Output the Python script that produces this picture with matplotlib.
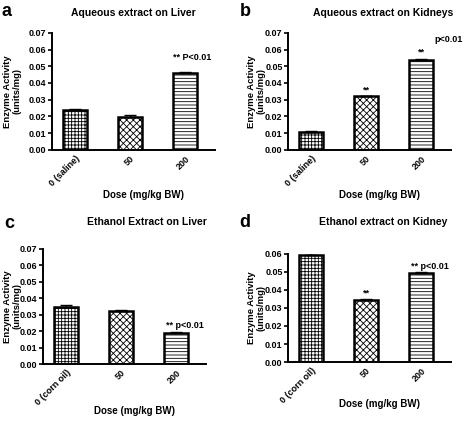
import matplotlib.pyplot as plt

plt.rcParams['font.family'] = 'Liberation Sans'
plt.rcParams['font.weight'] = 'bold'
plt.rcParams['hatch.linewidth'] = 0.6

# data
doses_saline = ["0 (saline)", "50", "200"]
doses_oil = ["0 (corn oil)", "50", "200"]
aq_liver = [0.0240, 0.0197, 0.0462]
aq_liver_err = [0.0007, 0.0010, 0.0002]
aq_kidney = [0.0108, 0.0320, 0.0535]
aq_kidney_err = [0.0004, 0.0002, 0.0010]
et_liver = [0.0347, 0.0322, 0.0190]
et_liver_err = [0.0010, 0.0009, 0.0006]
et_kidney = [0.0595, 0.0345, 0.0492]
et_kidney_err = [0.0010, 0.0007, 0.0010]

hatches = ['+++++', 'xxxxx', '-----']

fig = plt.figure(figsize=(4.73, 4.21), dpi=100)


def panel(rect, labels, vals, errs, ymax, title, tx, ty, letter, lx, ly, ylx, xly):
    ax = fig.add_axes(rect)
    x = range(len(vals))
    for i in x:
        ax.bar(i, vals[i], width=0.45, color='white', edgecolor='black',
               hatch=hatches[i], linewidth=1.8, zorder=2)
        ax.errorbar(i, vals[i], yerr=[[0], [errs[i]]], color='black',
                    capsize=4, elinewidth=1, capthick=1, zorder=3)
    ax.set_xlim(-0.42, 2.55)
    ax.set_ylim(0, ymax)
    ticks = [round(0.01 * k, 2) for k in range(int(round(ymax / 0.01)) + 1)]
    ax.set_yticks(ticks)
    ax.set_yticklabels([f"{t:.2f}" for t in ticks], fontsize=6.5, fontweight='bold')
    ax.set_xticks(list(x))
    ax.set_xticklabels(labels, rotation=45, ha='right', rotation_mode='anchor',
                       fontsize=6.5, fontweight='bold')
    ax.tick_params(length=3, width=1.2, pad=1)
    ax.tick_params(axis='x', length=0, pad=3)
    for s in ['top', 'right']:
        ax.spines[s].set_visible(False)
    for s in ['left', 'bottom']:
        ax.spines[s].set_linewidth(1.4)
    ax.set_ylabel("Enzyme Activity\n(units/mg)", fontsize=6.8, fontweight='bold',
                  linespacing=1.0, va='center')
    ax.yaxis.set_label_coords(ylx, 0.5)
    ax.set_xlabel("Dose (mg/kg BW)", fontsize=7, fontweight='bold', va='center')
    ax.xaxis.set_label_coords(0.56, xly)
    fig.text(tx, ty, title, fontsize=7.5, fontweight='bold', ha='center', va='center')
    fig.text(lx, ly, letter, fontsize=13, fontweight='bold', ha='left', va='center')
    return ax


a = panel([0.110, 0.644, 0.345, 0.278], doses_saline, aq_liver, aq_liver_err,
          0.07, "Aqueous extract on Liver", 0.283, 0.969, "a", 0.004, 0.972,
          -0.245, -0.385)
a.text(1.78, 0.0555, "** P<0.01", fontsize=6.5, fontweight='bold', ha='left', va='center')

b = panel([0.609, 0.644, 0.345, 0.278], doses_saline, aq_kidney, aq_kidney_err,
          0.07, "Aqueous extract on Kidneys", 0.810, 0.969, "b", 0.506, 0.972,
          -0.196, -0.385)
b.text(1, 0.0355, "**", fontsize=6.5, fontweight='bold', ha='center', va='center')
b.text(2, 0.0585, "**", fontsize=6.5, fontweight='bold', ha='center', va='center')
b.text(2.25, 0.066, "p<0.01", fontsize=6.5, fontweight='bold', ha='left', va='center',
       clip_on=False)

c = panel([0.091, 0.135, 0.345, 0.274], doses_oil, et_liver, et_liver_err,
          0.07, "Ethanol Extract on Liver", 0.310, 0.472, "c", 0.008, 0.470,
          -0.19, -0.41)
c.text(1.82, 0.0235, "** p<0.01", fontsize=6.5, fontweight='bold', ha='left', va='center')

d = panel([0.609, 0.140, 0.345, 0.257], doses_oil, et_kidney, et_kidney_err,
          0.06, "Ethanol extract on Kidney", 0.810, 0.472, "d", 0.506, 0.472,
          -0.196, -0.39)
d.text(1, 0.038, "**", fontsize=6.5, fontweight='bold', ha='center', va='center')
d.text(1.82, 0.053, "** p<0.01", fontsize=6.5, fontweight='bold', ha='left', va='center',
       clip_on=False)

fig.savefig("out.png", dpi=100)
